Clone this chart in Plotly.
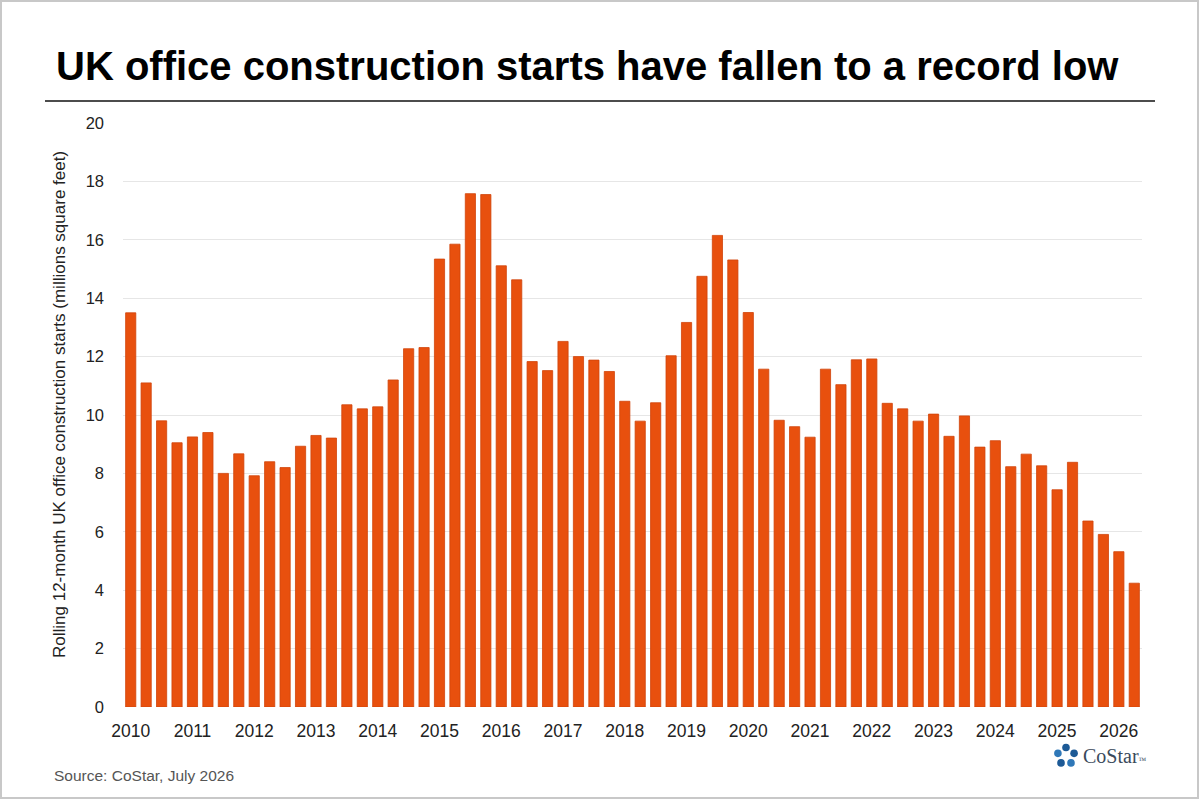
import math
import plotly.graph_objects as go

years = list(range(2010, 2027))
quarters = [f"{y} Q{q}" for y in years for q in range(1, 5)][:66]
values = [
    13.5, 11.1, 9.8, 9.05,
    9.25, 9.4, 8.0, 8.67,
    7.92, 8.4, 8.2, 8.93,
    9.3, 9.21, 10.35, 10.21,
    10.28, 11.2, 12.27, 12.31,
    15.34, 15.85, 17.58, 17.55,
    15.11, 14.63, 11.83, 11.52,
    12.52, 12.0, 11.88, 11.49,
    10.47, 9.79, 10.42, 12.03,
    13.17, 14.75, 16.15, 15.31,
    13.51, 11.57, 9.82, 9.6,
    9.24, 11.57, 11.04, 11.89,
    11.92, 10.4, 10.21, 9.79,
    10.03, 9.27, 9.97, 8.9,
    9.12, 8.23, 8.66, 8.26,
    7.44, 8.38, 6.37, 5.91,
    5.32, 4.24,
]
year_ticks = [f"{y} Q1" for y in years]
year_labels = [str(y) for y in years]

W, H = 1200, 800
L, R, T, B = 123, 1142, 123, 707

def px(x):
    return (x - L) / (R - L)

def py(y):
    return (B - y) / (B - T)

FONT = "Liberation Sans, Arial, sans-serif"

fig = go.Figure(go.Bar(
    x=quarters, y=values,
    marker=dict(color="#E8500E", line=dict(color="#D0440A", width=0.8)),
    width=0.66,
))

shapes = [
    dict(type="rect", xref="paper", yref="paper",
         x0=px(1), x1=px(W - 2), y0=py(H - 2), y1=py(1),
         line=dict(color="#c8c8c8", width=2), fillcolor="rgba(0,0,0,0)", layer="below"),
    dict(type="line", xref="paper", yref="paper",
         x0=px(45), x1=px(1155), y0=py(101), y1=py(101),
         line=dict(color="#111111", width=1.5)),
]

# CoStar logo ring (decorative)
cx, cy, rr = 1066, 756, 8.5
for k in range(5):
    a = math.radians(90 + k * 72)
    x = cx + rr * math.cos(a)
    y = cy - rr * math.sin(a)
    shapes.append(dict(type="circle", xref="paper", yref="paper",
                       x0=px(x - 3.8), x1=px(x + 3.8), y0=py(y + 3.8), y1=py(y - 3.8),
                       line=dict(width=0), fillcolor="#1d5a96" if k % 2 == 0 else "#2f78b8"))

annotations = [
    dict(text="<b>UK office construction starts have fallen to a record low</b>",
         xref="paper", yref="paper", x=px(54), y=py(66), xanchor="left", yanchor="middle",
         showarrow=False, font=dict(family=FONT, size=40, color="#000000")),
    dict(text="Rolling 12-month UK office construction starts (millions square feet)",
         xref="paper", yref="paper", x=px(59), y=py(405), xanchor="center", yanchor="middle",
         textangle=-90, showarrow=False, font=dict(family=FONT, size=17, color="#222222")),
    dict(text="Source: CoStar, July 2026",
         xref="paper", yref="paper", x=px(52), y=py(775), xanchor="left", yanchor="middle",
         showarrow=False, font=dict(family=FONT, size=15.5, color="#555555")),
    dict(text="CoStar<span style='font-size:8px'>™</span>",
         xref="paper", yref="paper", x=px(1081), y=py(756), xanchor="left", yanchor="middle",
         showarrow=False, font=dict(family="Liberation Serif, Times New Roman, serif", size=20, color="#3a4a5c")),
]

fig.update_layout(
    width=W, height=H,
    margin=dict(l=L, r=W - R, t=T, b=H - B, pad=0),
    paper_bgcolor="white", plot_bgcolor="white",
    showlegend=False,
    bargap=0.34,
    shapes=shapes,
    annotations=annotations,
    font=dict(family=FONT, size=17, color="#222222"),
)
fig.update_xaxes(
    type="category", categoryorder="array", categoryarray=quarters,
    range=[-0.5, len(quarters) - 0.5],
    tickmode="array", tickvals=year_ticks, ticktext=year_labels,
    showgrid=False, showline=False, ticks="", zeroline=False,
    tickfont=dict(family=FONT, size=17.5, color="#222222"),
    ticklabelstandoff=11,
)
fig.update_yaxes(
    range=[0, 20], tickmode="linear", tick0=0, dtick=2,
    showgrid=True, gridcolor="#e6e6e6", gridwidth=1,
    zeroline=False, showline=False, ticks="",
    tickfont=dict(family=FONT, size=16.5, color="#222222"),
    ticklabelstandoff=18,
)

fig.write_html("out.html", config={"displayModeBar": False},
               post_script="document.body.style.margin='0';document.body.style.overflow='hidden';")
